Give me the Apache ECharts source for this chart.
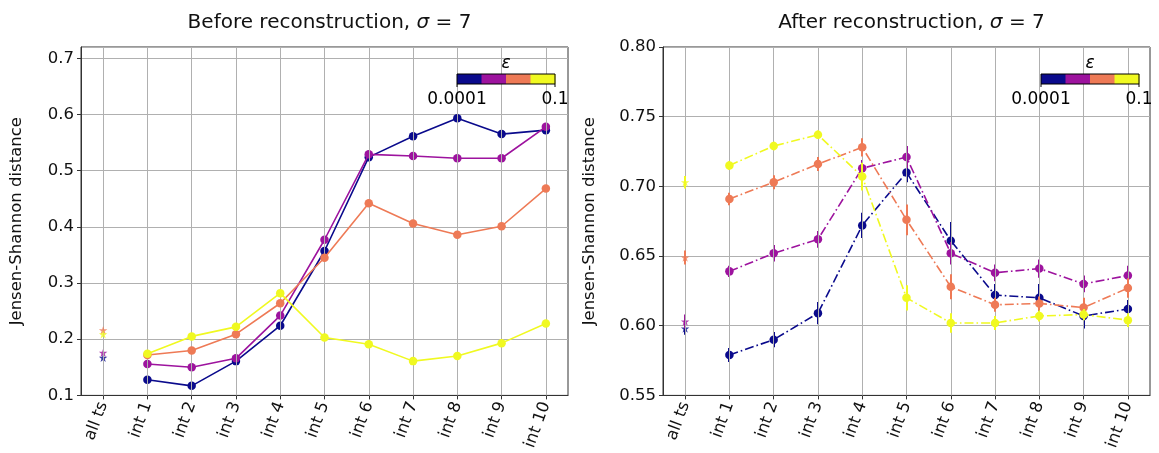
<!DOCTYPE html>
<html><head><meta charset="utf-8">
<script src="https://cdn.jsdelivr.net/npm/echarts@6/dist/echarts.min.js"></script>
<style>html,body{margin:0;padding:0;background:#fff}#c{width:1159px;height:453px}</style>
</head><body><div id="c"></div>
<script>
// ---------- data ----------
const categories = ['all ts','int 1','int 2','int 3','int 4','int 5','int 6','int 7','int 8','int 9','int 10'];
const epsNames = ['1e-4','1e-3','1e-2','1e-1'];
const epsColors = ['#0a0a8c','#9d139e','#ee7a56','#f0f921'];
const cbTickLabels = ['0.0001','0.1'];

// Before reconstruction: star at "all ts", then int 1..int 10
const beforeAllTs = [0.167, 0.176, 0.216, 0.209];
const beforeEps1 = [0.128, 0.117, 0.161, 0.224, 0.357, 0.524, 0.561, 0.593, 0.565, 0.572];
const beforeEps2 = [0.156, 0.150, 0.166, 0.242, 0.377, 0.529, 0.526, 0.522, 0.522, 0.578];
const beforeEps3 = [0.172, 0.180, 0.209, 0.264, 0.345, 0.442, 0.406, 0.386, 0.401, 0.468];
const beforeEps4 = [0.174, 0.205, 0.222, 0.282, 0.203, 0.191, 0.161, 0.170, 0.193, 0.228];

// After reconstruction: star at "all ts", then int 1..int 10, plus error half-widths
const afterAllTs = [0.598, 0.603, 0.649, 0.703];
const afterAllTsErr = [0.0045, 0.005, 0.005, 0.0045];
const afterEps1 = [0.579, 0.590, 0.609, 0.672, 0.710, 0.661, 0.622, 0.620, 0.607, 0.612];
const afterEps2 = [0.639, 0.652, 0.662, 0.713, 0.721, 0.652, 0.638, 0.641, 0.630, 0.636];
const afterEps3 = [0.691, 0.703, 0.716, 0.728, 0.676, 0.628, 0.615, 0.616, 0.613, 0.627];
const afterEps4 = [0.715, 0.729, 0.737, 0.707, 0.620, 0.602, 0.602, 0.607, 0.608, 0.604];
const afterErr1 = [0.005, 0.0055, 0.008, 0.009, 0.007, 0.0135, 0.008, 0.010, 0.009, 0.0065];
const afterErr2 = [0.004, 0.006, 0.006, 0.006, 0.008, 0.008, 0.006, 0.0065, 0.006, 0.007];
const afterErr3 = [0.0045, 0.005, 0.005, 0.0065, 0.011, 0.009, 0.005, 0.005, 0.007, 0.007];
const afterErr4 = [0.003, 0.003, 0.003, 0.010, 0.009, 0.007, 0.005, 0.004, 0.004, 0.005];

const beforeVals = [beforeEps1, beforeEps2, beforeEps3, beforeEps4];
const afterVals = [afterEps1, afterEps2, afterEps3, afterEps4];
const afterErrs = [afterErr1, afterErr2, afterErr3, afterErr4];

// ---------- chart ----------
const FONT = 'DejaVu Sans';
const STAR = 'path://M0,-10 L2.245,-3.09 L9.51,-3.09 L3.633,1.18 L5.88,8.09 L0,3.82 L-5.88,8.09 L-3.633,1.18 L-9.51,-3.09 L-2.245,-3.09 Z';
const chart = echarts.init(document.getElementById('c'), null, {renderer: 'canvas'});

const grids = [
  {left: 81, top: 47, width: 487, height: 349},
  {left: 663, top: 47, width: 487, height: 349}
];

function xAxisDef(gi) {
  return {
    type: 'category', gridIndex: gi, data: categories, boundaryGap: true,
    axisLine: {show: true, lineStyle: {color: '#333', width: 1}},
    axisTick: {show: true, alignWithLabel: true, length: 4, lineStyle: {color: '#333'}},
    axisLabel: {rotate: 70, fontFamily: FONT, fontSize: 16.5, color: '#111', margin: 7, interval: 0},
    splitLine: {show: false}
  };
}
function yAxisDef(gi, min, max, interval, fmt, gap) {
  return {
    type: 'value', gridIndex: gi, min: min, max: max, interval: interval,
    name: 'Jensen-Shannon distance', nameLocation: 'middle', nameGap: gap,
    nameTextStyle: {fontFamily: FONT, fontSize: 16.5, color: '#111'},
    axisLine: {show: true, lineStyle: {color: '#333', width: 1}},
    axisTick: {show: true, length: 4, lineStyle: {color: '#333'}},
    axisLabel: {fontFamily: FONT, fontSize: 16.5, color: '#111', margin: 7,
      showMaxLabel: fmt === 2, formatter: v => v.toFixed(fmt)},
    splitLine: {show: true, lineStyle: {color: '#b0b0b0', width: 1}}
  };
}

const series = [];
// vertical grid lines at each category
[0, 1].forEach(gi => {
  series.push({
    type: 'line', xAxisIndex: gi, yAxisIndex: gi, data: [], z: 1, silent: true,
    markLine: {silent: true, symbol: 'none', label: {show: false},
      lineStyle: {color: '#b0b0b0', width: 1, type: 'solid'},
      data: categories.map(c => ({xAxis: c}))}
  });
});

// before
beforeVals.forEach((vals, i) => {
  series.push({
    type: 'line', name: epsNames[i], xAxisIndex: 0, yAxisIndex: 0,
    data: [null].concat(vals), z: 3 + i, symbol: 'circle', symbolSize: 8.5,
    itemStyle: {color: epsColors[i]}, lineStyle: {color: epsColors[i], width: 1.6},
    animation: false
  });
  series.push({
    type: 'scatter', xAxisIndex: 0, yAxisIndex: 0,
    data: [[0, beforeAllTs[i]]], symbol: STAR, symbolSize: 8.5, z: 3 + i,
    itemStyle: {color: epsColors[i]}, animation: false
  });
});

// after
afterVals.forEach((vals, i) => {
  const errData = [[0, afterAllTs[i], afterAllTsErr[i]]].concat(
    vals.map((v, k) => [k + 1, v, afterErrs[i][k]]));
  const col = epsColors[i];
  series.push({
    type: 'custom', xAxisIndex: 1, yAxisIndex: 1, z: 3 + i, data: errData,
    encode: {x: 0, y: 1}, animation: false, silent: true,
    renderItem: (params, api) => {
      const x = api.value(0), y = api.value(1), e = api.value(2);
      const p1 = api.coord([x, y - e]), p2 = api.coord([x, y + e]);
      const cx = Math.round(p1[0]);
      return {type: 'rect', shape: {x: cx - 1, y: p2[1], width: 2, height: p1[1] - p2[1]},
        style: {fill: col, stroke: null}};
    }
  });
  series.push({
    type: 'line', name: epsNames[i], xAxisIndex: 1, yAxisIndex: 1,
    data: [null].concat(vals), z: 3 + i, symbol: 'circle', symbolSize: 8.5,
    itemStyle: {color: col}, lineStyle: {color: col, width: 1.6, type: [9, 3, 1.6, 3]},
    animation: false
  });
  series.push({
    type: 'scatter', xAxisIndex: 1, yAxisIndex: 1,
    data: [[0, afterAllTs[i]]], symbol: STAR, symbolSize: 8.5, z: 3 + i,
    itemStyle: {color: col}, animation: false
  });
});

// colorbar legends (graphic)
function colorbar(x0, w) {
  const els = [];
  const y0 = 74, h = 10, seg = w / epsColors.length;
  epsColors.forEach((c, i) => {
    els.push({type: 'rect', shape: {x: x0 + i * seg, y: y0, width: seg + 0.5, height: h},
      style: {fill: c}, silent: true, z: 50});
  });
  els.push({type: 'rect', shape: {x: x0, y: y0, width: w, height: h},
    style: {fill: 'none', stroke: '#000', lineWidth: 1}, silent: true, z: 51});
  [x0, x0 + w].forEach((x, k) => {
    els.push({type: 'line', shape: {x1: x, y1: y0 + h, x2: x, y2: y0 + h + 3},
      style: {stroke: '#000', lineWidth: 1}, silent: true, z: 51});
    els.push({type: 'text', x: x, y: 100, silent: true, z: 51,
      style: {text: cbTickLabels[k], fontFamily: FONT, fontSize: 17, fill: '#000',
        align: 'center', verticalAlign: 'middle'}});
  });
  els.push({type: 'text', x: x0 + w / 2, y: 64, silent: true, z: 51,
    style: {text: 'ε', fontFamily: FONT, fontSize: 17, fontStyle: 'italic', fill: '#000',
      align: 'center', verticalAlign: 'middle'}});
  return els;
}

const titleRich = {
  n: {fontFamily: FONT, fontSize: 20, color: '#111', fontWeight: 'normal'},
  s: {fontFamily: FONT, fontSize: 20, color: '#111', fontStyle: 'italic', fontWeight: 'normal'}
};

chart.setOption({
  animation: false,
  backgroundColor: '#fff',
  title: [
    {text: '{n|Before reconstruction, }{s|σ}{n| = 7}', left: 324.5, top: 8, textAlign: 'center',
      textStyle: {fontWeight: 'normal', rich: titleRich}},
    {text: '{n|After reconstruction, }{s|σ}{n| = 7}', left: 906.5, top: 8, textAlign: 'center',
      textStyle: {fontWeight: 'normal', rich: titleRich}}
  ],
  grid: grids.map(g => Object.assign({show: true, borderColor: '#333', borderWidth: 1,
    backgroundColor: 'transparent', containLabel: false}, g)),
  xAxis: [xAxisDef(0), xAxisDef(1)],
  yAxis: [yAxisDef(0, 0.1, 0.72, 0.1, 1, 56), yAxisDef(1, 0.55, 0.80, 0.05, 2, 65)],
  series: series,
  graphic: colorbar(457, 98).concat(colorbar(1041, 98))
});
</script>
</body></html>
